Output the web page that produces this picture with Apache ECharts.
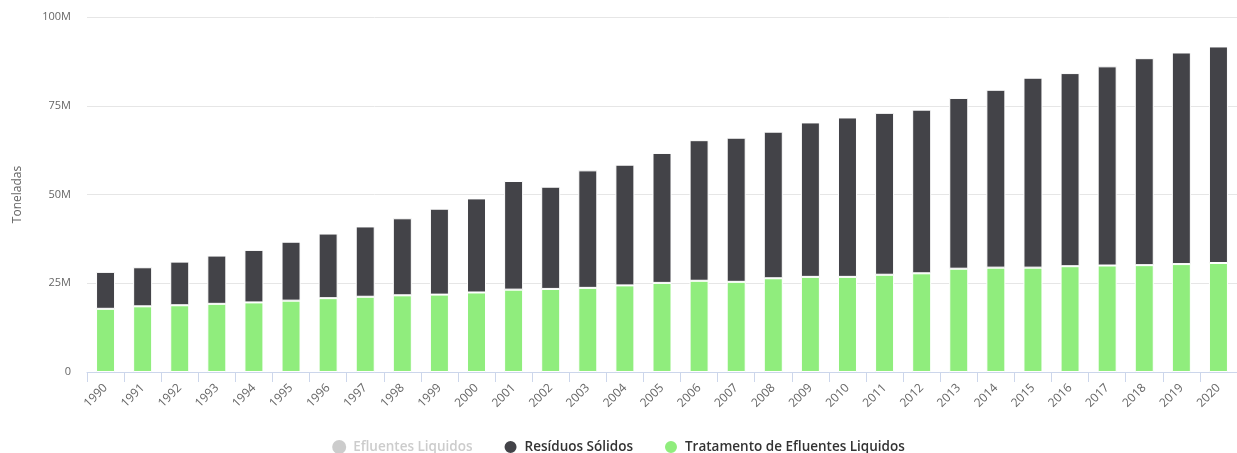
<!DOCTYPE html>
<html>
<head>
<meta charset="utf-8">
<script src="https://cdn.jsdelivr.net/npm/echarts@6/dist/echarts.min.js"></script>
<style>
  html, body { margin: 0; padding: 0; background: #ffffff; }
  #chart { width: 1237px; height: 453px; }
</style>
</head>
<body>
<div id="chart"></div>
<script>
// Emissions by waste sector, tonnes per year
const years = ['1990','1991','1992','1993','1994','1995','1996','1997','1998','1999',
  '2000','2001','2002','2003','2004','2005','2006','2007','2008','2009',
  '2010','2011','2012','2013','2014','2015','2016','2017','2018','2019','2020'];

// values in millions of tonnes
const efluentesLiquidos = [];
const residuosSolidos = [10.4, 11.0, 12.3, 13.6, 14.8, 16.6, 18.2, 19.8, 21.7, 24.2,
  26.5, 30.6, 28.8, 33.1, 34.0, 36.6, 39.6, 40.6, 41.3, 43.5,
  44.9, 45.6, 46.1, 48.1, 50.1, 53.5, 54.4, 56.1, 58.3, 59.6, 61.0];
const tratamentoEfluentes = [17.8, 18.5, 18.8, 19.2, 19.6, 20.1, 20.8, 21.2, 21.6, 21.8,
  22.4, 23.2, 23.4, 23.7, 24.4, 25.1, 25.7, 25.4, 26.4, 26.8,
  26.8, 27.4, 27.8, 29.1, 29.4, 29.4, 29.8, 30.0, 30.1, 30.4, 30.7];

const yTicks = [0, 25, 50, 75, 100];

const toTonnes = arr => arr.map(v => Math.round(v * 1e6));

const chart = echarts.init(document.getElementById('chart'), null, { renderer: 'canvas' });

const font = '"Open Sans", "DejaVu Sans", sans-serif';

chart.setOption({
  animation: false,
  backgroundColor: '#ffffff',
  grid: { left: 87, right: -8, top: 17, bottom: 81, containLabel: false },
  legend: {
    data: ['Efluentes Liquidos', 'Resíduos Sólidos', 'Tratamento de Efluentes Liquidos'],
    left: 'center',
    top: 439,
    padding: 0,
    icon: 'circle',
    itemWidth: 18,
    itemHeight: 14,
    itemGap: 30,
    selected: { 'Efluentes Liquidos': false },
    inactiveColor: '#cccccc',
    textStyle: { color: '#333333', fontSize: 13.5, fontWeight: 600, fontFamily: font }
  },
  xAxis: {
    type: 'category',
    data: years,
    boundaryGap: true,
    axisLine: { lineStyle: { color: '#ccd6eb', width: 1 } },
    axisTick: { show: true, length: 10, alignWithLabel: false, lineStyle: { color: '#ccd6eb' } },
    axisLabel: { rotate: 45, color: '#666666', fontSize: 12, fontFamily: font, margin: 14, interval: 0 }
  },
  yAxis: {
    type: 'value',
    min: yTicks[0] * 1e6,
    max: yTicks[yTicks.length - 1] * 1e6,
    interval: 25e6,
    name: 'Toneladas',
    nameLocation: 'middle',
    nameGap: 63,
    nameTextStyle: { color: '#666666', fontSize: 12, fontFamily: font },
    axisLine: { show: false },
    axisTick: { show: false },
    axisLabel: {
      color: '#666666', fontSize: 11, fontFamily: font, margin: 16,
      formatter: v => v === 0 ? '0' : (v / 1e6) + 'M'
    },
    splitLine: { lineStyle: { color: '#e6e6e6', width: 1 } }
  },
  series: [
    {
      name: 'Efluentes Liquidos',
      type: 'bar',
      stack: 'total',
      data: toTonnes(efluentesLiquidos),
      itemStyle: { color: '#7cb5ec' }
    },
    {
      name: 'Tratamento de Efluentes Liquidos',
      type: 'bar',
      stack: 'total',
      barWidth: 19,
      data: toTonnes(tratamentoEfluentes),
      itemStyle: { color: '#90ed7d', borderColor: '#ffffff', borderWidth: 1 }
    },
    {
      name: 'Resíduos Sólidos',
      type: 'bar',
      stack: 'total',
      barWidth: 19,
      data: toTonnes(residuosSolidos),
      itemStyle: { color: '#434348', borderColor: '#ffffff', borderWidth: 1 }
    }
  ]
});
</script>
</body>
</html>
